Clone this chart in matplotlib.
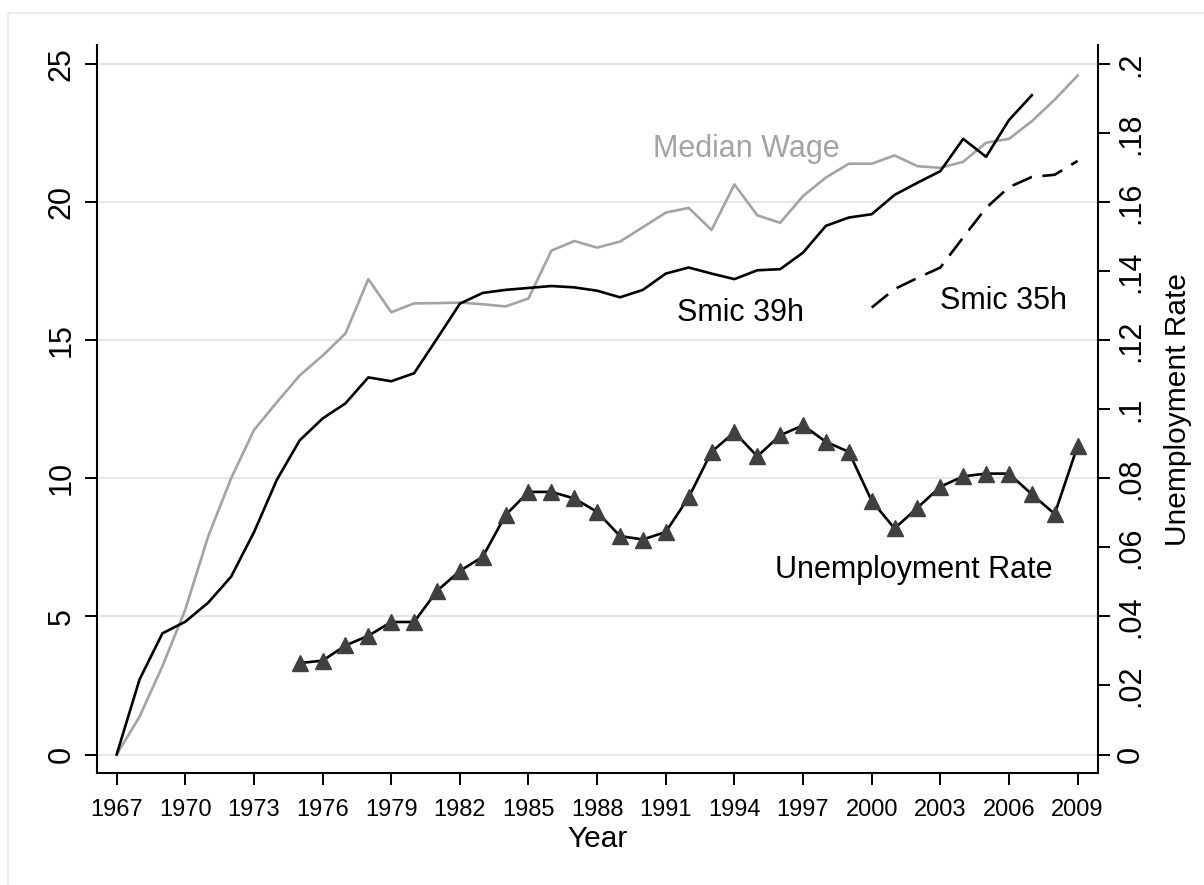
import matplotlib
matplotlib.use("Agg")
import matplotlib.pyplot as plt
from matplotlib.patches import Rectangle

plt.rcParams['font.family'] = ['Liberation Sans', 'DejaVu Sans']

# data
years = list(range(1967, 2010))
median_wage = [0.0, 1.37, 3.2, 5.25, 7.9, 10.0, 11.75, 12.76, 13.73, 14.45,
               15.25, 17.22, 16.02, 16.34, 16.35, 16.37, 16.31, 16.23, 16.52, 18.25,
               18.6, 18.36, 18.58, 19.1, 19.63, 19.8, 19.0, 20.65, 19.53, 19.26,
               20.23, 20.9, 21.4, 21.4, 21.7, 21.31, 21.25, 21.47, 22.16, 22.3,
               22.94, 23.72, 24.59]
smic39_years = list(range(1967, 2008))
smic39 = [0.0, 2.72, 4.39, 4.81, 5.5, 6.44, 8.05, 9.95, 11.38, 12.17,
          12.72, 13.66, 13.52, 13.81, 15.06, 16.33, 16.72, 16.83, 16.9, 16.97,
          16.92, 16.8, 16.56, 16.83, 17.42, 17.64, 17.42, 17.22, 17.54, 17.58,
          18.18, 19.15, 19.45, 19.57, 20.27, 20.71, 21.13, 22.3, 21.65, 22.98,
          23.88]
smic35_years = list(range(2000, 2010))
smic35 = [16.19, 16.86, 17.26, 17.64, 18.73, 19.8, 20.55, 20.92, 21.0, 21.5]
unemp_years = list(range(1975, 2010))
unemp = [0.0265, 0.0272, 0.0316, 0.0344, 0.0384, 0.0384, 0.0474, 0.0532, 0.0573, 0.0694,
         0.0761, 0.0761, 0.0742, 0.0703, 0.0633, 0.0623, 0.0645, 0.0745, 0.0877, 0.0934,
         0.0864, 0.0925, 0.0954, 0.0906, 0.0877, 0.0735, 0.0655, 0.0715, 0.0776, 0.0806,
         0.0814, 0.0814, 0.0754, 0.0697, 0.0894]

xticks = list(range(1967, 2010, 3))
left_ticks = [0, 5, 10, 15, 20, 25]
right_ticks = [0, .02, .04, .06, .08, .1, .12, .14, .16, .18, .2]
right_labels = ['0', '.02', '.04', '.06', '.08', '.1', '.12', '.14', '.16', '.18', '.2']

fig = plt.figure(figsize=(12.04, 8.85), dpi=100)
fig.patches.append(Rectangle((8 / 1204, -0.05), 1.1, (885 - 13) / 885 + 0.05,
                             transform=fig.transFigure, fill=False,
                             edgecolor='#ececec', linewidth=1.5))
ax = fig.add_axes([97 / 1204, 112 / 885, 1000.5 / 1204, 728 / 885])
ax.set_xlim(1966.14, 2009.87)
ax.set_ylim(-0.67, 25.70)
ax.set_yticks(left_ticks)
ax.grid(axis='y', color='#e6e6e6', linewidth=1.6)
ax.set_axisbelow(True)

ax.plot(years, median_wage, color='#a3a3a3', linewidth=1.9)
ax.plot(smic39_years, smic39, color='black', linewidth=1.9)
ax.plot(smic35_years, smic35, color='black', linewidth=1.9, dashes=(8, 4))

ax.text(1994.5, 21.65, 'Median Wage', color='#a3a3a3', fontsize=22, ha='center', va='baseline')
ax.text(1994.26, 15.71, 'Smic 39h', color='black', fontsize=22, ha='center', va='baseline')
ax.text(2005.74, 16.12, 'Smic 35h', color='black', fontsize=22, ha='center', va='baseline')
ax.text(2001.84, 6.38, 'Unemployment Rate', color='black', fontsize=22, ha='center', va='baseline')

ax.set_xticks(xticks)
ax.set_xticklabels([str(y) for y in xticks])
ax.tick_params(axis='x', labelsize=17, length=8.5, width=1.4, pad=10)
ax.tick_params(axis='y', labelsize=22, length=8.5, width=1.4, pad=6, labelrotation=90)
for lab in ax.get_yticklabels():
    lab.set_va('center')
ax.set_xlabel('Year', fontsize=21.5)
ax.xaxis.set_label_coords(0.5, -0.072)
for s in ['top', 'right']:
    ax.spines[s].set_visible(False)
for s in ['left', 'bottom']:
    ax.spines[s].set_linewidth(1.5)

ax2 = ax.twinx()
ax2.set_ylim(-0.67 * 0.008, 25.70 * 0.008)
ax2.plot(unemp_years, unemp, color='black', linewidth=1.9, marker='^',
         markersize=12, markerfacecolor='#404040', markeredgecolor='#404040')
ax2.set_yticks(right_ticks)
ax2.set_yticklabels(right_labels)
ax2.tick_params(axis='y', labelsize=22, length=8.5, width=1.4, pad=5, labelrotation=90)
for lab in ax2.get_yticklabels():
    lab.set_va('center')
ax2.set_ylabel('Unemployment Rate', fontsize=21.5)
ax2.yaxis.set_label_coords(1.066, 0.5)
for s in ['top', 'left', 'bottom']:
    ax2.spines[s].set_visible(False)
ax2.spines['right'].set_linewidth(1.5)

fig.savefig('out.png', dpi=100)
